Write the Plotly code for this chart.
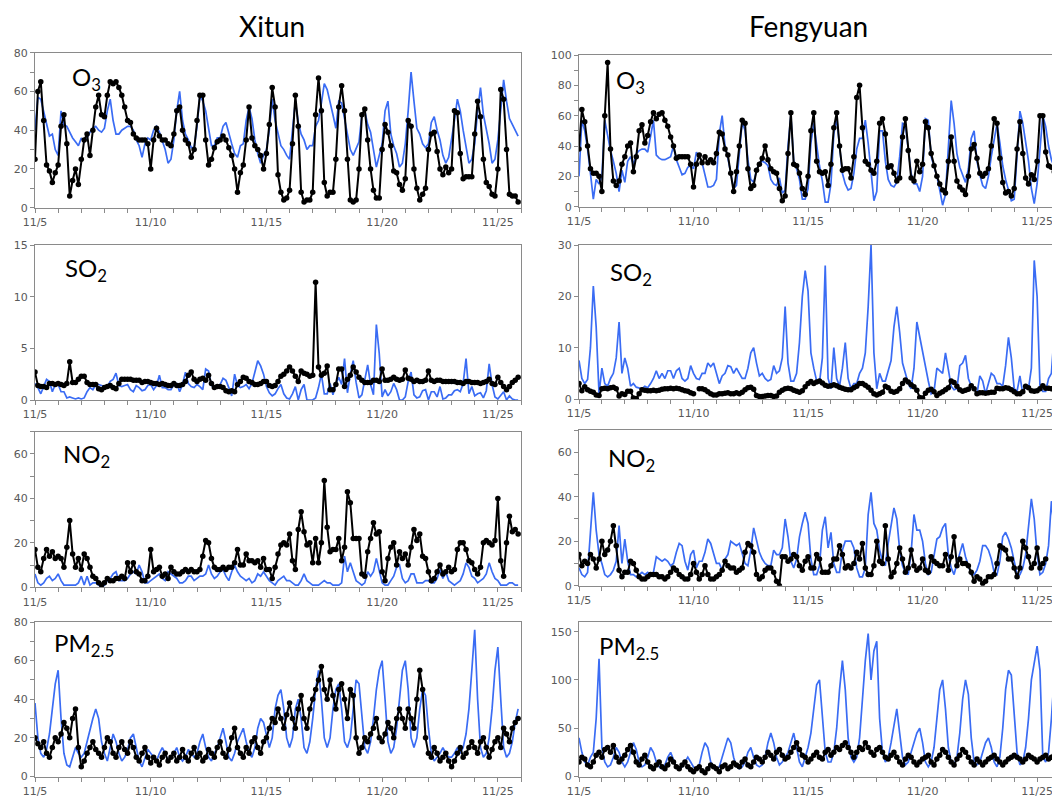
import plotly.graph_objects as go

# ---------------- data (3-hourly samples from 11/5 00:00) ----------------
tick_vals = [0, 5, 10, 15, 20]
tick_text = ["11/5", "11/10", "11/15", "11/20", "11/25"]

xitun_o3_obs = [25,60,65,45,22,19,13,18, 22,42,48,33,6,14,20,12, 25,35,38,27,40,52,58,48,
    47,58,65,64,65,62,58,52, 45,44,38,36,35,35,35,33, 20,35,41,37,35,35,33,32,
    38,50,52,40,35,33,26,30, 45,58,58,35,22,25,31,34, 35,37,35,31,27,20,8,18,
    22,35,52,36,32,30,27,20, 28,43,62,52,17,8,4,5, 9,33,58,42,8,3,4,4,
    8,48,67,50,13,6,8,8, 25,52,63,50,25,4,3,4, 20,48,51,35,20,9,5,5,
    30,43,39,32,19,18,12,9, 15,45,42,20,10,4,7,10, 30,38,39,29,20,17,21,18,
    20,50,49,28,15,16,16,16, 38,55,47,25,13,11,7,6, 20,61,56,30,7,6,6,3]
xitun_o3_mod = [40,57,56,50,43,37,38,30, 27,50,43,42,39,36,34,32, 36,34,36,39,41,42,40,39,
    41,50,56,45,38,38,40,41, 42,42,40,35,32,26,33,36, 35,40,42,39,35,30,23,25,
    35,50,60,45,38,35,31,31, 42,58,55,50,41,32,32,36, 36,42,44,38,33,28,26,32,
    33,45,52,46,35,28,23,27, 30,40,56,45,38,32,30,27, 25,42,55,44,38,35,30,32,
    32,42,45,54,64,61,55,48, 41,55,54,46,40,30,27,31, 34,48,50,43,39,30,21,27,
    33,50,55,38,32,28,21,23, 33,50,70,55,41,38,33,31, 33,44,47,40,35,27,23,26,
    35,45,56,50,40,31,23,25, 33,50,62,48,41,33,23,25, 35,50,66,55,46,43,40,37]

fengyuan_o3_obs = [38,64,56,40,25,22,22,20, 10,60,95,38,17,14,17,28, 33,40,42,23,33,50,54,42,
    47,56,62,58,61,62,57,53, 46,40,32,33,33,33,33,28, 13,28,34,29,33,29,31,29,
    35,49,48,38,34,22,10,23, 40,57,55,25,12,14,24,28, 32,40,31,25,23,22,12,4,
    7,35,62,28,27,22,12,8, 20,50,62,30,23,22,23,14, 28,52,62,40,24,25,25,19,
    33,72,80,52,30,28,24,22, 30,55,58,48,26,27,22,17, 19,46,58,37,19,17,30,23,
    28,56,52,35,27,20,15,11, 9,30,46,30,17,13,11,8, 20,38,41,32,22,20,22,25,
    40,58,55,32,16,9,10,7, 12,38,56,35,19,15,21,18, 30,60,60,36,27,26,23,20]
fengyuan_o3_mod = [20,57,50,38,22,5,18,15, 20,57,47,37,30,22,10,24, 16,30,33,28,35,37,38,38,
    36,48,57,34,32,31,31,32, 33,40,31,26,21,22,26,27, 25,36,33,29,20,13,13,14,
    18,48,60,40,32,23,12,14, 35,56,50,31,18,16,24,29, 30,29,27,18,15,14,19,9,
    11,40,60,30,25,18,5,5, 12,42,55,40,27,17,3,3, 15,48,58,40,22,15,11,12,
    22,38,45,45,57,42,25,4, 10,50,50,30,18,14,13,16, 33,55,54,37,22,15,15,10,
    20,58,57,33,27,20,11,1, 8,40,70,55,35,26,21,16, 25,45,50,30,21,14,12,20,
    33,45,55,42,27,18,10,4, 5,33,63,55,43,30,12,2, 15,37,60,53,40,31,26,12]

xitun_so2_obs = [2.7,1.4,1.3,1.3,1.2,1.6,1.6,1.5, 1.6,1.5,1.4,1.6,3.7,1.7,1.7,2.0,
    2.3,2.3,1.7,1.5,1.5,1.5,1.1,1.0, 1.2,1.3,1.4,1.2,1.1,1.6,2.0,2.0,
    2.0,2.0,1.9,1.9,1.9,1.7,1.8,1.8, 1.7,1.6,1.6,1.5,1.6,1.5,1.4,1.4,
    1.6,1.4,1.4,1.5,1.8,2.4,2.7,2.0, 1.8,2.0,2.1,1.9,2.4,1.6,1.2,1.3,
    1.3,1.2,0.9,0.8,0.9,0.8,1.5,1.8, 2.2,2.1,1.8,1.7,1.5,1.5,1.6,1.8,
    1.8,1.4,1.3,1.4,1.8,2.3,2.5,2.8, 3.2,2.8,2.3,1.8,2.8,2.6,2.5,2.3,
    2.4,11.4,3.2,2.4,2.6,3.3,1.0,1.0, 1.5,3.0,3.0,1.3,2.0,2.4,3.2,2.7,
    2.2,1.9,1.7,1.7,1.7,1.9,1.9,1.8, 3.0,1.9,1.9,2.0,2.2,2.0,1.9,2.0,
    2.9,2.1,2.0,1.8,1.9,1.8,1.8,1.9, 2.8,1.9,1.8,1.9,1.9,1.8,1.8,1.8,
    1.8,1.8,1.7,1.7,1.6,1.8,1.8,1.7, 1.7,1.7,1.6,1.7,1.8,2.0,1.6,1.5,
    2.2,1.7,1.3,1.0,1.3,1.7,1.9,2.2]
xitun_so2_mod = [1.6,1.2,0.6,1.3,2.0,1.8,0.8,1.5, 1.5,0.8,0.8,0.2,0.3,0.2,0.1,0.2,
    0.1,0.2,0.8,1.2,1.0,1.5,1.5,1.4, 1.3,1.3,1.8,2.0,2.6,1.4,1.3,1.4,
    1.5,1.0,0.8,1.4,1.2,0.9,1.0,1.4, 1.5,1.0,1.4,2.4,1.2,1.2,1.0,1.0,
    1.5,1.6,0.8,1.5,2.7,1.6,1.3,1.2, 1.5,1.3,1.0,3.0,2.8,1.4,1.2,1.2,
    1.5,2.1,1.9,1.2,0.4,2.5,1.4,1.2, 1.3,1.5,1.1,1.6,2.6,3.8,3.3,2.5,
    1.3,0.7,0.4,0.6,1.1,1.5,0.6,0.2, 0.1,0.6,1.3,0.0,1.0,1.5,0.0,0.0,
    0.0,0.2,1.2,2.5,0.6,0.6,1.6,0.5, 1.5,2.2,1.5,4.0,0.7,2.5,3.8,1.7,
    0.2,0.5,2.0,3.4,1.5,0.5,7.3,4.5, 0.3,1.0,0.4,0.8,1.6,1.0,0.0,0.0,
    0.3,1.8,2.7,0.5,0.2,0.3,0.9,1.0, 0.0,0.8,0.8,0.3,1.3,0.1,0.2,0.5,
    0.5,0.9,1.0,0.8,1.6,4.0,0.6,1.3, 0.4,0.6,0.7,0.2,0.9,3.5,1.5,0.3,
    0.1,0.4,0.8,0.0,0.4,0.1,0.0,0.0]

fengyuan_so2_obs = [3.0,1.6,2.4,1.8,1.5,1.3,0.8,0.7, 2.0,2.1,2.0,2.2,2.3,2.0,0.6,1.0,
    0.9,1.5,1.5,0.2,0.1,1.0,1.8,1.7, 1.6,1.6,1.7,1.6,1.7,1.9,2.0,2.0,
    2.1,2.0,2.1,2.0,1.8,1.6,1.5,1.2, 1.0,None,2.0,2.0,1.8,1.4,1.0,0.8,
    0.8,1.0,1.0,1.1,1.2,1.0,1.0,1.2, 1.0,1.3,1.8,2.2,2.3,1.9,0.7,0.5,
    0.5,0.6,0.7,0.7,0.5,0.6,1.3,1.7, 2.0,2.1,2.0,1.7,1.5,1.3,1.6,2.4,
    3.0,3.4,3.0,3.3,3.5,3.1,2.7,2.5, 2.6,2.8,2.6,2.3,2.1,1.9,1.8,1.8,
    2.2,2.5,3.0,3.0,2.7,2.3,1.7,1.0, 0.8,1.0,1.3,2.5,2.2,1.5,1.3,1.5,
    2.0,3.0,3.7,3.3,2.8,2.4,1.7,0.3, 0.2,1.1,1.7,1.9,1.4,0.7,1.1,1.4,
    1.8,2.2,3.5,3.2,2.5,1.8,1.5,1.7, 1.9,2.6,2.0,1.0,1.2,1.2,1.1,1.2,
    1.3,1.3,2.1,2.0,2.0,2.2,2.1,1.8, 1.4,1.0,1.0,1.4,2.5,2.2,1.6,1.5,
    1.6,2.0,2.6,2.1,2.1,2.0,1.8,2.0]
fengyuan_so2_mod = [7.5,4,3,3.8,10,22,14,1, 6,3,2.5,4,5,8,15,5, 8,6,2.5,3,2.3,2.2,2,2.5,
    2.2,3,4,5.5,4,5,4,5.5, 5.5,4,5.5,6,4,3.5,4,6.5, 5,4,3.8,5,5,7,6.3,7,
    5,3,4.5,5,6.5,6.3,5,6, 5,4,4,6,9,10,7,4.5, 5,4,3.5,3.8,6.5,5,5.5,8,
    18,7,3.5,3.5,5,11,20,25, 21,9,6,3.5,3.2,8,26,4, 2,10,4,2.5,6,11,4,2,
    3,3,5,6,9,18,30,9, 2,5,3.5,3.5,5.5,7.5,14,18, 13,7,5,3,2,6,15,12,
    9.5,6.5,3.5,1,1.5,6,5.5,5, 9,6,2.5,1.8,2,6.5,7,8.5, 4,2.5,2,1,4.5,3.5,1,3,
    5,4.5,3,3,2.5,6.5,12,8, 2,1.5,4.5,1,2.5,2,6,27, 20,2.5,1.5,1.5,4,5,13,4.5]

xitun_no2_obs = [17,9,7,13,17,14,16,13, 14,13,9,18,30,15,9,13, 8,15,13,9,5,4,2,1,
    2,4,3,3,4,4,5,4, 11,7,11,7,6,3,3,5, 17,7,8,9,5,6,4,9, 7,6,6,7,8,7,8,7,
    7,8,14,21,20,13,9,8, 8,9,8,9,9,11,17,10, 10,15,12,12,11,12,9,13,
    8,8,4,9,15,19,20,19, 24,12,8,26,34,25,19,20, 11,22,11,20,48,27,16,17,
    17,22,12,18,43,38,22,22, 22,6,5,16,22,29,24,25, 7,3,13,18,20,10,16,13,
    15,10,18,26,21,24,14,13, 7,3,4,7,10,6,7,9, 7,8,17,20,20,17,12,11,
    8,6,9,20,21,20,19,21, 40,12,5,20,32,25,26,24]
xitun_no2_mod = [6,2,1,2,4,5,3,4, 6,3,1,1,1,1,1,2, 5,1,5,1,2,2,1,0, 1,3,4,6,7,3,3,3,
    4,6,7,6,10,7,2,2, 3,4,5,6,4,3,7,6, 5,4,2,2,3,5,5,3, 4,5,5,6,10,6,4,5,
    7,8,5,3,7,10,7,5, 4,3,4,2,3,6,5,7, 5,3,2,1,3,4,5,3, 3,2,1,1,3,6,3,2,
    1,1,1,2,3,2,2,1, 1,1,2,14,7,11,7,3, 2,1,2,7,5,7,13,8, 2,1,1,3,5,9,10,4,
    2,3,6,6,2,2,2,3, 3,2,2,4,8,4,7,3, 2,1,2,3,6,11,9,5, 4,2,3,4,6,11,7,4,
    3,1,1,1,2,2,1,1]

fengyuan_no2_obs = [14,9,11,10,14,12,8,12, 20,14,16,20,27,18,7,4, 6,6,11,10,7,4,3,3,
    4,5,5,5,4,4,3,4, 6,8,7,5,4,3,3,5, 10,6,3,5,9,5,3,3, 4,5,7,11,9,8,8,6,
    7,8,15,19,18,15,5,3, 4,7,8,8,6,2,0,13, 13,11,12,14,13,9,7,11,
    13,8,8,14,12,6,6,6, 9,12,12,18,14,8,9,8, 10,15,12,19,8,5,5,9,
    20,11,10,27,12,4,6,10, 17,12,6,8,16,9,7,8, 12,7,6,13,11,10,9,9,
    14,7,13,22,9,12,10,10, 9,6,2,4,3,1,2,4, 4,5,10,18,17,16,12,12,
    8,4,8,20,17,13,8,10, 17,8,10,12,None,None,None,None]
fengyuan_no2_mod = [8,5,4,6,24,42,25,14, 10,5,4,5,7,11,27,10, 21,11,5,5,4,5,6,5,
    6,5,6,13,12,11,12,11, 9,10,15,19,18,11,7,14, 16,8,11,11,15,21,19,14,
    10,10,7,12,14,20,19,18, 19,15,10,9,16,26,21,15, 12,10,9,9,16,14,14,17,
    30,22,11,8,12,22,28,33, 28,12,5,5,9,25,31,17, 24,10,6,6,16,20,20,20,
    17,8,4,4,8,32,42,28, 25,16,11,9,19,27,35,30, 16,9,6,5,15,32,25,25,
    20,10,5,6,13,21,22,26, 28,14,8,5,10,15,19,13, 9,5,5,7,11,18,18,16,
    12,6,5,11,22,24,21,17, 11,5,5,8,14,26,39,30, 14,5,6,10,18,38,25,12]

xitun_pm_obs = [20,17,15,18,12,10,15,20, 18,22,28,25,20,30,35,15, 5,8,12,15,18,14,12,10,
    15,20,18,12,10,15,18,14, 12,18,15,10,8,12,15,10, 7,10,8,6,10,12,8,10,
    12,8,10,14,10,8,12,15, 10,12,8,10,14,12,10,15, 18,12,10,14,20,25,15,12,
    10,15,12,18,20,15,12,18, 20,25,30,28,35,30,25,32, 38,30,25,35,42,30,25,35,
    40,45,50,57,45,40,50,42, 35,45,48,40,30,45,42,20, 12,15,20,18,22,25,30,20,
    18,22,28,25,20,30,35,30, 25,35,30,25,40,55,45,20, 12,10,15,12,8,10,12,8,
    5,8,12,15,10,12,15,18, 15,12,18,20,15,10,14,18, 20,15,25,22,18,25,28,30]
xitun_pm_mod = [38,20,12,10,14,22,35,48, 55,30,12,6,5,10,15,12, 10,12,18,25,30,35,30,18,
    12,8,15,22,18,12,8,10, 14,20,22,15,8,5,10,14, 12,10,8,12,15,12,8,10,
    12,15,10,8,10,14,12,10, 12,18,22,15,10,8,12,15, 20,25,18,10,8,12,18,22,
    25,18,12,10,15,25,30,28, 22,15,20,35,42,45,35,20, 15,20,35,40,30,15,12,18,
    30,45,55,40,20,15,20,35, 45,48,35,18,15,20,35,50, 48,30,15,12,18,30,45,55,
    60,40,18,12,15,25,40,55, 60,45,20,15,20,35,45,42, 25,12,8,10,12,15,12,10,
    10,12,15,12,15,22,35,55, 76,40,15,10,12,20,35,55, 67,40,15,10,12,18,28,35]

fengyuan_pm_obs = [15,20,18,12,10,15,22,25, 20,28,30,25,32,20,15,18, 22,28,32,25,15,12,18,22,
    15,10,8,12,15,10,8,12, 18,15,10,8,12,15,10,7, 5,8,10,6,4,8,12,10,
    8,5,10,12,8,10,14,12, 10,15,18,12,10,15,20,18, 15,20,25,22,18,25,28,22,
    18,20,25,30,35,28,22,20, 15,18,22,25,20,18,25,28, 22,25,30,28,32,35,30,25,
    20,25,30,28,35,30,25,22, 28,30,25,20,18,22,25,20, 15,12,18,22,20,15,12,15,
    18,20,22,15,12,18,22,28, 25,20,15,12,18,22,28,25, 20,15,12,18,15,12,15,18,
    20,22,18,15,12,15,18,20, 22,20,18,15,18,22,20,18, 15,18,20,22,18,20,22,20]
fengyuan_pm_mod = [40,25,15,12,20,25,60,122, 30,15,10,12,20,30,25,15, 10,15,25,35,28,15,10,12,
    20,30,25,15,10,8,12,20, 25,18,10,8,10,15,20,15, 10,8,12,25,35,30,15,10,
    8,10,20,30,40,35,20,10, 8,10,15,25,30,20,12,10, 12,20,35,45,35,20,12,15,
    20,25,35,45,30,15,10,20, 30,45,70,95,100,60,25,15, 15,25,50,90,120,90,40,20,
    15,20,40,80,120,148,100,130, 140,60,25,15,20,35,55,70, 45,20,12,15,25,35,45,50,
    35,15,10,15,30,60,90,100, 70,30,15,12,20,45,80,100, 85,40,15,12,15,25,35,40,
    30,15,10,20,50,90,110,105, 60,25,12,15,30,60,100,120, 135,110,20,15,25,60,105,90]

# ---------------- styling ----------------
OFF = 8                      # page body margin of the html page
W, H = 1060 - OFF, 798 - OFF
BLUE = "#3a6cf4"
AX = "#8a8a8a"
TXT = "#595959"


def px_x(v):
    return (v - OFF) / W


def px_y(v):
    return 1 - (v - OFF) / H


panels = [
    # (obs, mod, xdom px, ydom px (top,bottom), ymax, dtick, minor, right column)
    (xitun_o3_obs, xitun_o3_mod, (35, 521), (52.7, 207.7), 80, 20, 10, False),
    (fengyuan_o3_obs, fengyuan_o3_mod, (579, 1060), (55, 206.7), 100, 20, 10, True),
    (xitun_so2_obs, xitun_so2_mod, (35, 521), (245, 400), 15, 5, None, False),
    (fengyuan_so2_obs, fengyuan_so2_mod, (579, 1060), (245, 399), 30, 10, None, True),
    (xitun_no2_obs, xitun_no2_mod, (35, 521), (431.7, 587.3), 70, 20, 10, False),
    (fengyuan_no2_obs, fengyuan_no2_mod, (579, 1060), (430, 585.7), 70, 20, 10, True),
    (xitun_pm_obs, xitun_pm_mod, (35, 521), (622, 776.5), 80, 20, 10, False),
    (fengyuan_pm_obs, fengyuan_pm_mod, (579, 1060), (622, 776.5), 160, 50, None, True),
]

fig = go.Figure()
layout = {}
for k, (obs, mod, xd, yd, ymax, dt, mdt, right) in enumerate(panels, start=1):
    sfx = "" if k == 1 else str(k)
    xm = [i / 8 for i in range(len(mod))]
    xo = [i / 8 for i in range(len(obs))]
    fig.add_trace(go.Scatter(x=xm, y=mod, mode="lines", xaxis="x" + sfx, yaxis="y" + sfx,
                             line=dict(color=BLUE, width=1.7), showlegend=False))
    fig.add_trace(go.Scatter(x=xo, y=obs, mode="lines+markers", xaxis="x" + sfx, yaxis="y" + sfx,
                             line=dict(color="black", width=2),
                             marker=dict(color="black", size=5.5), showlegend=False))
    layout["xaxis" + sfx] = dict(
        domain=[px_x(xd[0]), min(1.0, px_x(xd[1]))], anchor="y" + sfx, range=[0, 21],
        tickmode="array", tickvals=tick_vals, ticktext=tick_text, automargin=False,
        ticks="outside", ticklen=4, tickcolor=AX, showline=True, linecolor=AX, linewidth=1,
        mirror=True, showgrid=False, zeroline=False,
        tickfont=dict(family="DejaVu Sans", size=11, color=TXT),
        minor=dict(tickmode="linear", tick0=0, dtick=1, ticks="outside", ticklen=4, tickcolor=AX),
    )
    ya = dict(
        domain=[px_y(yd[1]), px_y(yd[0])], anchor="x" + sfx, range=[0, ymax],
        tickmode="linear", tick0=0, dtick=dt, ticks="outside", ticklen=4, tickcolor=AX,
        showline=True, linecolor=AX, linewidth=1, mirror=(not right), automargin=False,
        showgrid=False, zeroline=False,
        tickfont=dict(family="DejaVu Sans", size=11, color=TXT),
    )
    if mdt:
        ya["minor"] = dict(tickmode="linear", tick0=0, dtick=mdt, ticks="outside", ticklen=4, tickcolor=AX)
    layout["yaxis" + sfx] = ya

labels = [
    ("O<sub>3</sub>", 70, 78), ("O<sub>3</sub>", 614, 81),
    ("SO<sub>2</sub>", 63, 269), ("SO<sub>2</sub>", 608, 273),
    ("NO<sub>2</sub>", 61, 455), ("NO<sub>2</sub>", 606, 459),
    ("PM<sub>2.5</sub>", 52, 644), ("PM<sub>2.5</sub>", 597, 647),
]
annotations = []
for txt, x, y in labels:
    annotations.append(dict(text=txt, x=px_x(x), y=px_y(y), xref="paper", yref="paper",
                            xanchor="left", yanchor="middle", showarrow=False,
                            font=dict(family="Lato", size=24, color="black")))
for txt, x in [("Xitun", 272), ("Fengyuan", 808)]:
    annotations.append(dict(text=txt, x=px_x(x), y=px_y(26), xref="paper", yref="paper",
                            xanchor="center", yanchor="middle", showarrow=False,
                            font=dict(family="Lato", size=28, color="black")))

fig.update_layout(width=W, height=H, margin=dict(l=0, r=0, t=0, b=0),
                  paper_bgcolor="white", plot_bgcolor="white",
                  annotations=annotations, **layout)
fig.write_html("out.html")
